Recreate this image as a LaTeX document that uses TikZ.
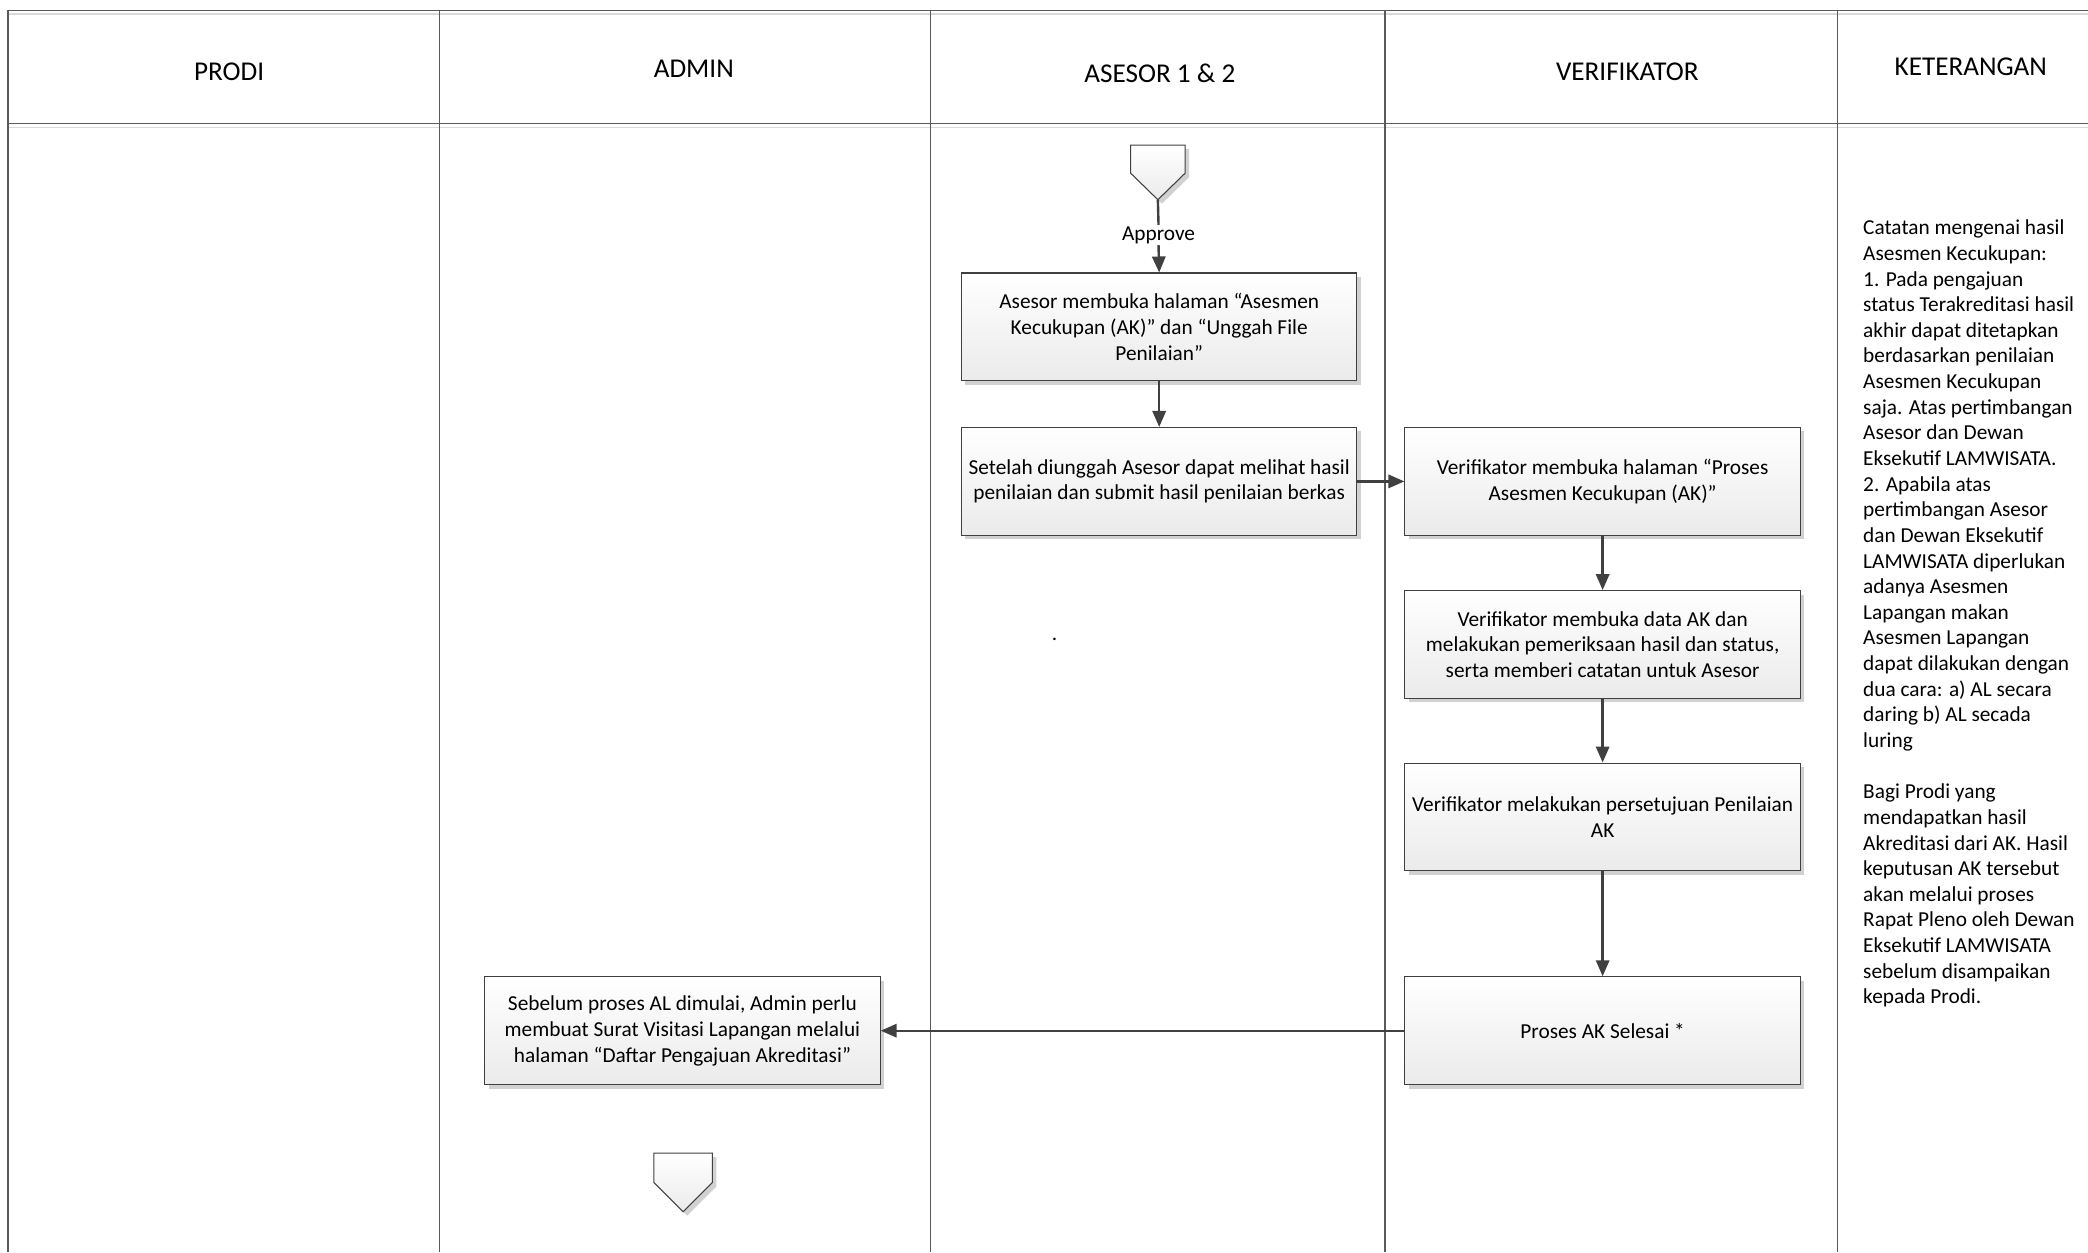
\documentclass[tikz,border=0pt]{standalone}
\usepackage{fontspec}
\setmainfont{Carlito}
\usetikzlibrary{arrows.meta,shadows}
\definecolor{linec}{HTML}{404040}
\definecolor{framec}{HTML}{5A5A5A}
\tikzset{
  x=1pt,y=1pt,
  procbox/.style={draw=linec,line width=0.8pt,top color=white,bottom color=black!8,
    minimum width=297pt,minimum height=81pt,align=center,inner sep=0pt,
    font=\fontsize{16}{19.4}\selectfont,
    drop shadow={shadow xshift=3pt,shadow yshift=-3pt,fill=black!18,opacity=1}},
  headtxt/.style={font=\fontsize{20.4}{22}\selectfont,inner sep=0pt},
  flowarrow/.style={draw=linec,line width=1.8pt,-{Triangle[length=12pt,width=10pt]}},
  flowline/.style={draw=linec,line width=1.8pt},
  laneline/.style={draw=framec,line width=0.9pt},
  offpage/.style={draw=linec,line width=0.8pt,top color=white,bottom color=black!8,
    drop shadow={shadow xshift=3pt,shadow yshift=-3pt,fill=black!18,opacity=1}},
  notetxt/.style={font=\fontsize{16}{19.25}\selectfont,align=left,inner sep=0pt,anchor=north west}
}
\begin{document}
\begin{tikzpicture}
\useasboundingbox[fill=white] (0,0) rectangle (1568,-940.2);
% frame and lanes
\draw[black!15,line width=1pt] (6,-10.5) -- (1568,-10.5);
\draw[black!15,line width=1pt] (6,-95.5) -- (1568,-95.5);
\draw[laneline,line width=1.2pt] (6,-940.2) -- (6,-8) -- (1568,-8);
\draw[laneline] (6,-93) -- (1568,-93);
\foreach \xx in {330,699,1040,1380} {\draw[laneline] (\xx,-8) -- (\xx,-940.2);}
% headers
\node[headtxt] (hprodi) at (172,-54) {PRODI};
\node[headtxt] (hadmin) at (521,-52) {ADMIN};
\node[headtxt] (hasesor) at (871,-55) {ASESOR 1 \& 2};
\node[headtxt] (hverif) at (1222,-54) {VERIFIKATOR};
\node[headtxt] (hket) at (1480,-50) {KETERANGAN};
% off-page connectors
\draw[offpage] (849,-109) -- (890,-109) -- (890,-130) -- (869.5,-150) -- (849,-130) -- cycle;
\coordinate (optip) at (869.5,-150);
\draw[offpage] (491,-866) -- (535,-866) -- (535,-888) -- (513,-910) -- (491,-888) -- cycle;
\coordinate (opbot) at (513,-866);
% boxes
\node[procbox] (a1) at (870.5,-245.5) {Asesor membuka halaman “Asesmen\\Kecukupan (AK)” dan “Unggah File\\Penilaian”};
\node[procbox] (a2) at (870.5,-361.5) {Setelah diunggah Asesor dapat melihat hasil\\penilaian dan submit hasil penilaian berkas};
\node[procbox] (v1) at (1203.5,-361.5) {Verifikator membuka halaman “Proses\\Asesmen Kecukupan (AK)”};
\node[procbox] (v2) at (1203.5,-484) {Verifikator membuka data AK dan\\melakukan pemeriksaan hasil dan status,\\serta memberi catatan untuk Asesor};
\node[procbox] (v3) at (1203.5,-613.5) {Verifikator melakukan persetujuan Penilaian\\AK};
\node[procbox] (v4) at (1203.5,-774) {Proses AK Selesai *};
\node[procbox] (ad) at (512.5,-774) {Sebelum proses AL dimulai, Admin perlu\\membuat Surat Visitasi Lapangan melalui\\halaman “Daftar Pengajuan Akreditasi”};
% stray dot
\node[font=\fontsize{16}{18}\selectfont,inner sep=0pt] (dot) at (792,-480) {.};
% approve label
\node[font=\fontsize{16}{18}\selectfont,inner sep=1pt] (appr) at (870,-176.5) {Approve};
% connectors
\draw[flowline] (optip) -- (appr.north);
\draw[flowarrow] (appr.south) -- (a1.north);
\draw[flowarrow] (a1.south) -- (a2.north);
\draw[flowarrow] (a2.east) -- (v1.west);
\draw[flowarrow] (v1.south) -- (v2.north);
\draw[flowarrow] (v2.south) -- (v3.north);
\draw[flowarrow] (v3.south) -- (v4.north);
\draw[flowarrow] (v4.west) -- (ad.east);
% keterangan
\node[notetxt] (note) at (1399,-165) {Catatan mengenai hasil\\Asesmen Kecukupan:\\1. Pada pengajuan\\status Terakreditasi hasil\\akhir dapat ditetapkan\\berdasarkan penilaian\\Asesmen Kecukupan\\saja. Atas pertimbangan\\Asesor dan Dewan\\Eksekutif LAMWISATA.\\2. Apabila atas\\pertimbangan Asesor\\dan Dewan Eksekutif\\LAMWISATA diperlukan\\adanya Asesmen\\Lapangan makan\\Asesmen Lapangan\\dapat dilakukan dengan\\dua cara: a) AL secara\\daring b) AL secada\\luring\\[19.25pt]Bagi Prodi yang\\mendapatkan hasil\\Akreditasi dari AK. Hasil\\keputusan AK tersebut\\akan melalui proses\\Rapat Pleno oleh Dewan\\Eksekutif LAMWISATA\\sebelum disampaikan\\kepada Prodi.};
\end{tikzpicture}
\end{document}
